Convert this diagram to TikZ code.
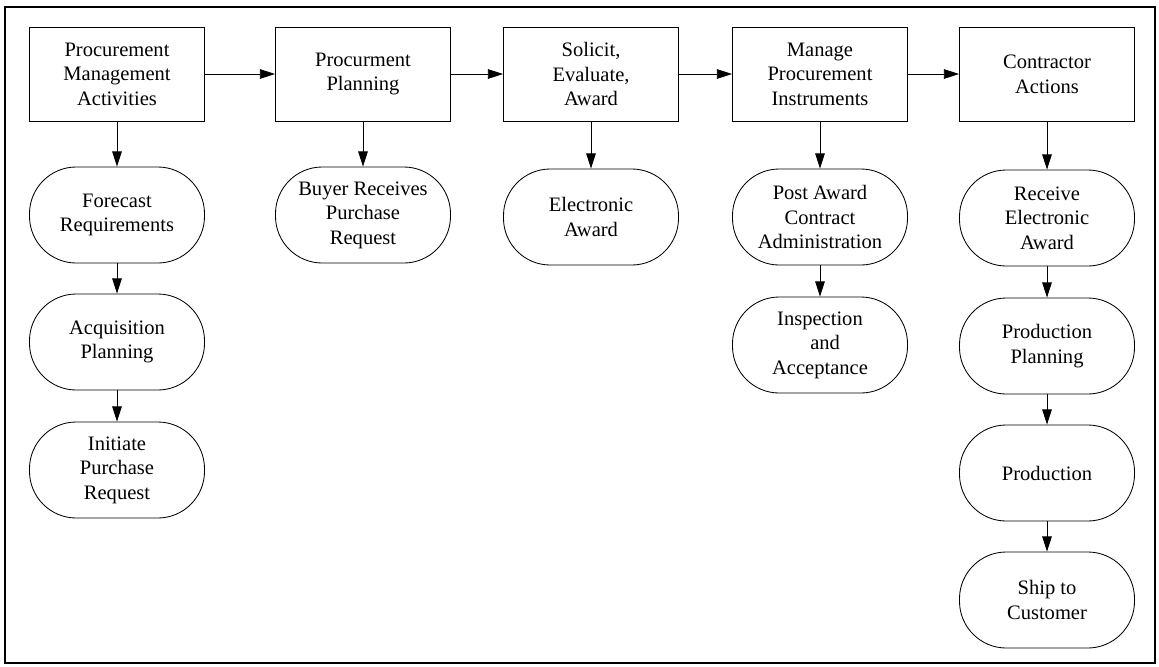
\documentclass[tikz,border=0pt]{standalone}
\usepackage{fontspec}
\setmainfont{Liberation Serif}
\usetikzlibrary{arrows.meta}

\tikzset{
  box/.style={draw, line width=0.6pt, minimum width=4.375cm, minimum height=2.35cm,
    align=center, font=\fontsize{14.6}{17.5}\selectfont},
  oval/.style={draw, line width=0.6pt, rounded corners=1.17cm, minimum width=4.375cm,
    minimum height=2.4cm, align=center, font=\fontsize{14.6}{17.5}\selectfont},
  link/.style={line width=0.6pt, -{Triangle[length=0.38cm,width=0.24cm]}}
}

\begin{document}
\begin{tikzpicture}[x=0.025cm, y=-0.025cm]
    \useasboundingbox (0,0) rectangle (1159,666);
    \draw[line width=1pt] (5,7) rectangle (1155,663);

    % top row
    \node[box] (pma) at (117,74) {Procurement\\Management\\Activities};
    \node[box] (pp) at (363,74) {Procurment\\Planning};
    \node[box] (sea) at (591,74) {Solicit,\\Evaluate,\\Award};
    \node[box] (mpi) at (820,74) {Manage\\Procurement\\Instruments};
    \node[box] (ca) at (1047,74) {Contractor\\Actions};

    % columns
    \node[oval] (fr) at (117,215) {Forecast\\Requirements};
    \node[oval] (ap) at (117,342) {Acquisition\\Planning};
    \node[oval] (ipr) at (117,470) {Initiate\\Purchase\\Request};

    \node[oval] (brpr) at (363,215) {Buyer Receives\\Purchase\\Request};

    \node[oval] (ea) at (591,217) {Electronic\\Award};

    \node[oval] (paca) at (820,217) {Post Award\\Contract\\Administration};
    \node[oval] (ia) at (820,345) {Inspection\\\ \ and\\Acceptance};

    \node[oval] (rea) at (1047,218) {Receive\\Electronic\\Award};
    \node[oval] (prp) at (1047,346) {Production\\Planning};
    \node[oval] (prod) at (1047,473) {Production};
    \node[oval] (stc) at (1047,600) {Ship to\\Customer};

    \draw[link] (pma) -- (pp);
    \draw[link] (pp) -- (sea);
    \draw[link] (sea) -- (mpi);
    \draw[link] (mpi) -- (ca);

    \draw[link] (pma) -- (fr);
    \draw[link] (fr) -- (ap);
    \draw[link] (ap) -- (ipr);
    \draw[link] (pp) -- (brpr);
    \draw[link] (sea) -- (ea);
    \draw[link] (mpi) -- (paca);
    \draw[link] (paca) -- (ia);
    \draw[link] (ca) -- (rea);
    \draw[link] (rea) -- (prp);
    \draw[link] (prp) -- (prod);
    \draw[link] (prod) -- (stc);
\end{tikzpicture}
\end{document}
